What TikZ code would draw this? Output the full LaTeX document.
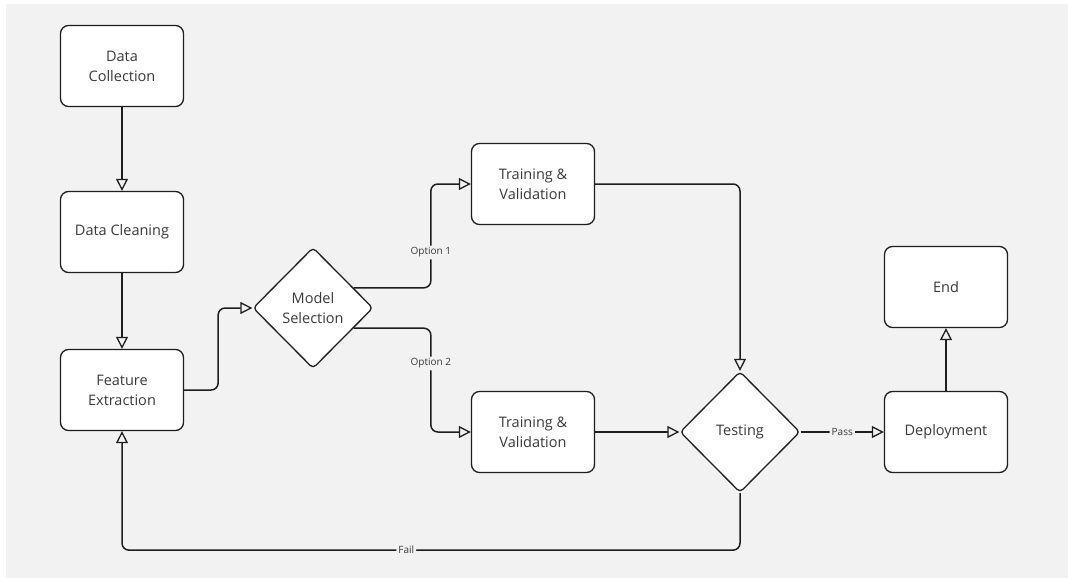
\documentclass[tikz,border=0pt]{standalone}
\usepackage{fontspec}
\setmainfont{Open Sans}
\usetikzlibrary{arrows.meta,shapes.geometric,positioning,calc}

\definecolor{bg}{HTML}{F2F2F2}
\definecolor{ink}{HTML}{1E1E1E}
\definecolor{txt}{HTML}{3A3A3A}

\tikzset{
  box/.style={draw=ink, fill=white, rounded corners=8pt, line width=1.3pt,
    minimum width=123pt, minimum height=81pt, align=center, text=txt,
    font=\fontsize{14.5}{20}\selectfont},
  decision/.style={diamond, draw=ink, fill=white, rounded corners=4pt, line width=1.3pt,
    minimum width=120pt, minimum height=121pt, inner sep=0pt, align=center, text=txt,
    font=\fontsize{14.5}{20}\selectfont},
  flow/.style={draw=ink, line width=1.5pt, rounded corners=7pt,
    -{Triangle[open,length=12pt,width=12pt,line width=1.3pt]}},
  tag/.style={fill=bg, inner sep=2pt, text=txt, font=\fontsize{10}{12}\selectfont}
}

\begin{document}
\begin{tikzpicture}[x=1pt,y=-1pt]
% page and canvas
\fill[white] (0,0) rectangle (1068,578);
\fill[bg] (6,4) rectangle (1068,578);

% steps
\node[box] (collect) at (122,66) {Data\\Collection};
\node[box] (clean) at (122,232) {Data Cleaning};
\node[box] (feature) at (122,390) {Feature\\Extraction};
\node[decision] (model) at (313,308) {Model\\Selection};
\node[box] (train1) at (533,184) {Training \&\\Validation};
\node[box] (train2) at (533,432) {Training \&\\Validation};
\node[decision] (test) at (740,432) {Testing};
\node[box] (deploy) at (946,432) {Deployment};
\node[box] (final) at (946,287) {End};

% exits of the model choice
\coordinate (opt1) at ($(model.east)!0.33!(model.north)$);
\coordinate (opt2) at ($(model.east)!0.33!(model.south)$);

% connectors
\draw[flow] (collect) -- (clean);
\draw[flow] (clean) -- (feature);
\draw[flow] (feature.east) -- ++(34,0) |- (model.west);
\draw[flow] (opt1) -| ($(train1.west)+(-40,0)$) node[tag, pos=0.67] (o1) {Option 1} -- (train1.west);
\draw[flow] (opt2) -| ($(train2.west)+(-40,0)$) node[tag, pos=0.67] (o2) {Option 2} -- (train2.west);
\draw[flow] (train1.east) -| (test.north);
\draw[flow] (train2) -- (test);
\draw[flow] (test) -- node[tag] (pass) {Pass} (deploy);
\draw[flow] (deploy) -- (final);
\draw[flow] (test.south) -- ++(0,57) -| node[tag, pos=0.27] (fail) {Fail} (feature.south);
\end{tikzpicture}
\end{document}
